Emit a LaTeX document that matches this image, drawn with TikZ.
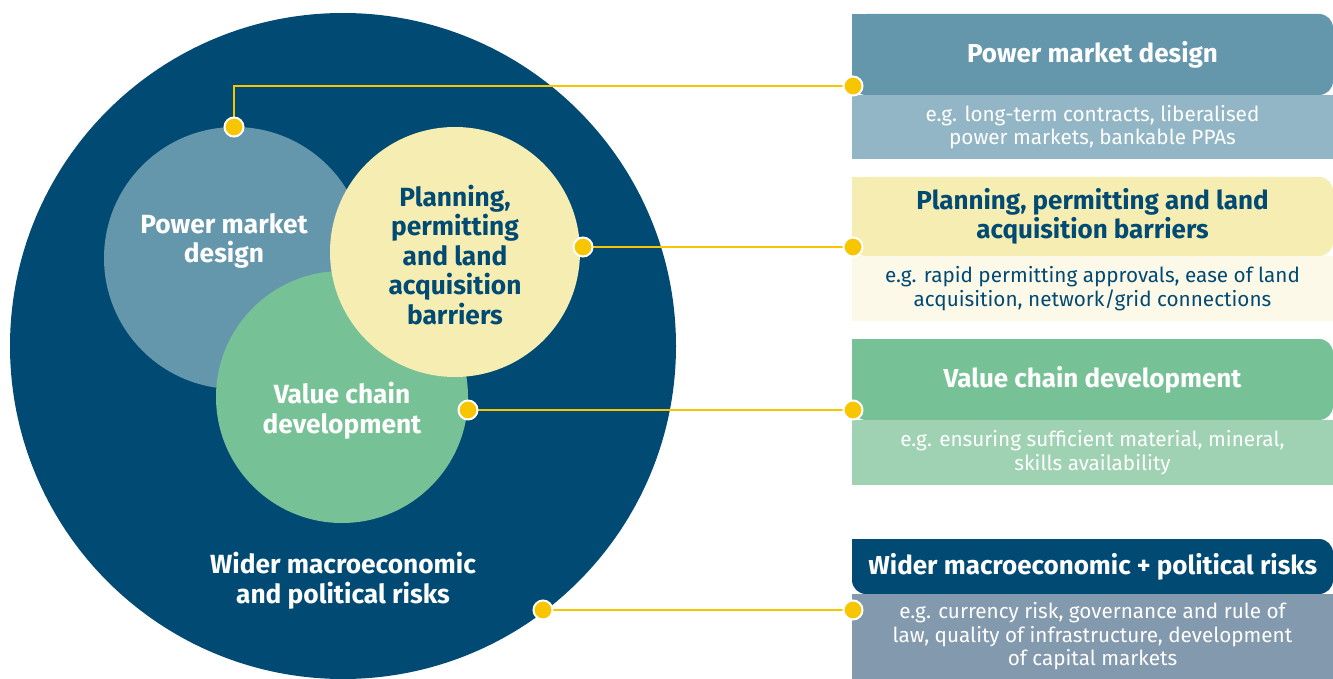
\documentclass[tikz,border=0pt]{standalone}
\usepackage{fontspec}
\setmainfont{Fira Sans}
\definecolor{navy}{HTML}{004A74}
\definecolor{pmd}{HTML}{6497AC}
\definecolor{pmdl}{HTML}{92B6C6}
\definecolor{ylw}{HTML}{F5EDB2}
\definecolor{ylwl}{HTML}{FDF9E8}
\definecolor{grn}{HTML}{77C196}
\definecolor{grnl}{HTML}{9FD1B3}
\definecolor{wdl}{HTML}{8399AE}
\definecolor{dotc}{HTML}{F7C600}
\pgfdeclarelayer{back}
\pgfdeclarelayer{mid}
\pgfsetlayers{back,mid,main}
\begin{document}
\begin{tikzpicture}[x=1pt,y=-1pt,
 circ/.style={circle, inner sep=0pt, outer sep=0pt, minimum size=#1},
 dot/.style={circle, fill=dotc, draw=white, line width=2pt, inner sep=0pt, minimum size=19pt},
 link/.style={draw=dotc, line width=2.5pt},
 hdr/.style={rectangle, rounded corners=14pt, anchor=north west, minimum width=481pt, inner sep=0pt, outer sep=0pt, align=center, font=\fontsize{26}{29}\selectfont\bfseries},
 bdy/.style={rectangle, anchor=north west, minimum width=481pt, inner sep=0pt, outer sep=0pt, align=center, font=\fontsize{20.7}{23.5}\selectfont},
 ctext/.style={align=center, font=\fontsize{26.3}{29.5}\selectfont\bfseries, text=white}]
\useasboundingbox (0,0) rectangle (1333,679);
\begin{pgfonlayer}{back}
% circles
\node[circ=666pt, fill=navy] (outer) at (343,346) {};
\node[circ=262pt, fill=pmd] (cpmd) at (235,258) {};
\node[circ=252pt, fill=grn] (cvcd) at (342,397) {};
\node[circ=250pt, fill=ylw] (cplan) at (455,252) {};
% boxes
\node[hdr, fill=pmd, minimum height=81pt, text=white] (h1) at (852,14) {Power market design};
\fill[pmd] (852,14) rectangle (875,40);
\node[bdy, fill=pmdl, minimum height=64pt, text=white] (b1) at (852,95) {e.g. long-term contracts, liberalised\\power markets, bankable PPAs};
\node[hdr, fill=ylw, minimum height=79pt, text=navy] (h2) at (852,177) {Planning, permitting and land\\acquisition barriers};
\fill[ylw] (852,177) rectangle (875,200);
\node[bdy, fill=ylwl, minimum height=65pt, text=navy] (b2) at (852,256) {e.g. rapid permitting approvals, ease of land\\acquisition, network/grid connections};
\node[hdr, fill=grn, minimum height=81pt, text=white] (h3) at (852,339) {Value chain development};
\fill[grn] (852,339) rectangle (875,365);
\node[bdy, fill=grnl, minimum height=65pt, text=white] (b3) at (852,420) {e.g. ensuring sufficient material, mineral,\\skills availability};
\node[hdr, fill=navy, minimum height=55pt, text=white] (h4) at (852,539) {Wider macroeconomic + political risks};
\fill[navy] (852,539) rectangle (875,560);
\node[bdy, fill=wdl, minimum height=85pt, text=white] (b4) at (852,594) {e.g. currency risk, governance and rule of\\law, quality of infrastructure, development\\of capital markets};
\end{pgfonlayer}
% circle texts
\node[ctext] (tpmd) at (224,241) {Power market\\design};
\node[ctext, text=navy] (tplan) at (455,255) {Planning,\\permitting\\and land\\acquisition\\barriers};
\node[ctext] (tvcd) at (342,411) {Value chain\\development};
\node[ctext] (twide) at (343,581) {Wider macroeconomic\\and political risks};
% dots
\node[dot] (d1) at (234,127) {};
\node[dot] (d2) at (583,247) {};
\node[dot] (d3) at (468,410) {};
\node[dot] (d4) at (543,610) {};
\node[dot] (e1) at (853,86) {};
\node[dot] (e2) at (853,247) {};
\node[dot] (e3) at (853,410) {};
\node[dot] (e4) at (853,610) {};
\begin{pgfonlayer}{mid}
\draw[link] (d1.center) |- (e1.center);
\draw[link] (d2.center) -- (e2.center);
\draw[link] (d3.center) -- (e3.center);
\draw[link] (d4.center) -- (e4.center);
\end{pgfonlayer}
\end{tikzpicture}
\end{document}
